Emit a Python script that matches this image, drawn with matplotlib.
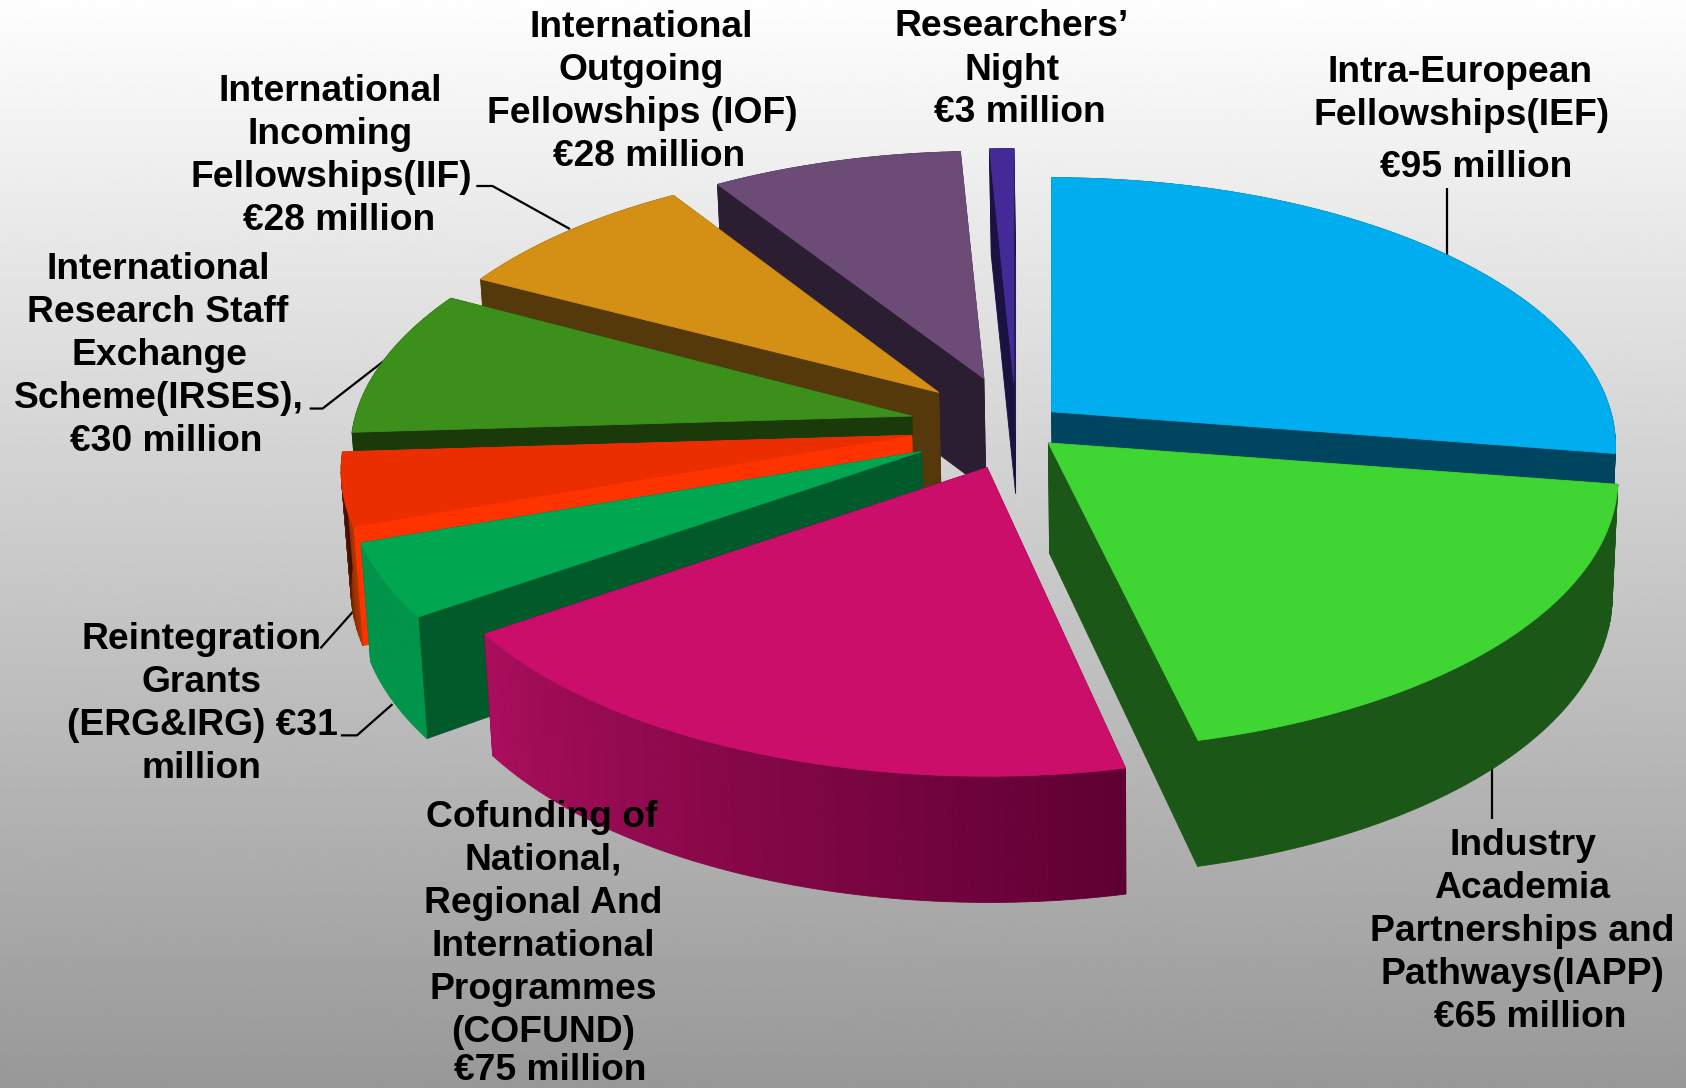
import numpy as np
import matplotlib
matplotlib.use("Agg")
import matplotlib.pyplot as plt
from matplotlib.colors import to_rgb

# ---- data -------------------------------------------------------------
actions = ["IEF", "IAPP", "COFUND", "IRG", "ERG", "IRSES", "IIF", "IOF", "Researchers' Night"]
funding = [95, 65, 75, 15.5, 15.5, 30, 28, 28, 3]   # EUR million

top_colors = ["#00AEEF", "#3FD634", "#CA0E6A", "#00A650", "#EA2E00", "#3C8F1A", "#D49015", "#6C4C76", "#432A96"]
side_colors = ["#004560", "#1B5716", "#5E0032", "#005A2A", "#FF3300", "#1A3A09", "#55390A", "#2C1E32", "#1A1240"]
wall_from = ["#004560", "#1B5716", "#AA0E5C", "#00954A", "#3A0C00", "#1A3A09", "#55390A", "#2C1E32", "#1A1240"]
wall_to = ["#004560", "#1B5716", "#5E0032", "#00954A", "#B03A00", "#1A3A09", "#55390A", "#2C1E32", "#1A1240"]

label_lines = [
    ("International", 596, 26), ("Outgoing", 596, 66), ("Fellowships (IOF)", 597, 106), ("€28 million", 604, 146),
    ("Researchers’", 941, 25), ("Night", 941, 66), ("€3 million", 948, 105),
    ("Intra-European", 1358, 67), ("Fellowships(IEF)", 1359, 107), ("€95 million", 1373, 156),
    ("International", 307, 85), ("Incoming", 307, 125), ("Fellowships(IIF)", 308, 165), ("€28 million", 315, 205),
    ("International", 147, 251), ("Research Staff", 147, 291), ("Exchange", 148, 331),
    ("Scheme(IRSES),", 148, 371), ("€30 million", 155, 411),
    ("Reintegration", 187, 595), ("Grants", 187, 635), ("(ERG&IRG) €31", 188, 675), ("million", 187, 715),
    ("Cofunding of", 504, 760), ("National,", 505, 800), ("Regional And", 505, 840), ("International", 505, 880),
    ("Programmes", 505, 920), ("(COFUND)", 505, 960), ("€75 million", 512, 996),
    ("Industry", 1416, 786), ("Academia", 1416, 826), ("Partnerships and", 1416, 866),
    ("Pathways(IAPP)", 1416, 906), ("€65 million", 1423, 946),
]
leaders = [
    ([1346, 1346], [175, 237]),
    ([1388, 1388], [712, 762]),
    ([443, 458, 530], [173, 173, 213]),
    ([288, 300, 358], [380, 380, 335]),
    ([298, 330], [603, 567]),
    ([317, 332, 365], [684, 684, 655]),
]

# ---- layout of the exploded slices -------------------------------------
apex_x = [978, 975, 918, 857, 848, 848, 873, 915, 943]
apex_y = [383, 412, 435, 420, 405, 387, 365, 352, 356]
radius = [1.0, 1.01, 1.015, 1.015, 1.012, 0.995, 0.98, 0.97, 1.0]
start_shift = [0, -2.4, -5.45, 3.1, 3.03, 3.25, 2.57, 1.56, -0.2]
end_shift = [-2.56, -4.35, 3.3, 3.03, 3.25, 1.77, 1.06, -0.24, 0]
RX, RY, PERSP, APEX_DEPTH, RIM_DEPTH, DEPTH_PERSP, VX, VK = 520.0, 246.0, 0.13, 103.0, 108.0, 0.08, 1070.0, 0.012
draw_order = [8, 7, 6, 5, 4, 3, 2, 0, 1]

fig = plt.figure(figsize=(16.86, 10.88), dpi=100)
ax = fig.add_axes([0, 0, 1, 1])
ax.set_xlim(0, 1568)
ax.set_ylim(1012, 0)
ax.axis("off")

grad = np.linspace(254, 152, 512).reshape(-1, 1) / 255.0
ax.imshow(grad, cmap="gray", vmin=0, vmax=1, extent=(0, 1568, 1012, 0), aspect="auto", zorder=0)

angles = 90 - 360 * np.concatenate([[0], np.cumsum(funding)]) / np.sum(funding)


def rim(i, deg):
    t = np.radians(deg)
    w = 1 + PERSP * np.sin(t)
    return (apex_x[i] + radius[i] * RX * np.cos(t) / w,
            apex_y[i] - radius[i] * RY * np.sin(t) / w)


def lower(x, y, deg):
    t = np.radians(deg)
    return x + (VX - x) * VK, y + RIM_DEPTH / (1 + DEPTH_PERSP * np.sin(t))


def poly(xs, ys, color, z):
    ax.fill(xs, ys, facecolor=color, edgecolor=color, linewidth=0.6, zorder=z)


z = 2
for i in draw_order:
    a0, a1 = angles[i] + start_shift[i], angles[i + 1] + end_shift[i]
    ax_ap, ay_ap = apex_x[i], apex_y[i]
    bx0, by0 = ax_ap + (VX - ax_ap) * VK, ay_ap + APEX_DEPTH
    # radial faces
    for a in (a0, a1):
        rx_, ry_ = rim(i, a)
        bx1, by1 = lower(rx_, ry_, a)
        poly([ax_ap, rx_, bx1, bx0], [ay_ap, ry_, by1, by0], side_colors[i], z)
    # outer wall as shaded strips
    n = max(int(abs(a1 - a0)), 2)
    edges = np.linspace(a0, a1, n + 1)
    c0, c1 = np.array(to_rgb(wall_to[i])), np.array(to_rgb(wall_from[i]))
    for k in range(n):
        sub = np.linspace(edges[k], edges[k + 1], 4)
        tx, ty = rim(i, sub)
        bx, by = lower(tx, ty, sub)
        col = c0 + (c1 - c0) * (k + 0.5) / n
        poly(np.r_[tx, bx[::-1]], np.r_[ty, by[::-1]], tuple(col), z)
    # top surface
    arc = np.linspace(a0, a1, 80)
    tx, ty = rim(i, arc)
    poly(np.r_[ax_ap, tx], np.r_[ay_ap, ty], top_colors[i], z + 0.5)
    z += 1

for xs, ys in leaders:
    ax.plot(xs, ys, color="black", lw=1.6, zorder=1.5, solid_capstyle="butt")

for text, x, y in label_lines:
    ax.text(x, y, text, ha="center", va="center", family="Liberation Sans",
            fontweight="bold", fontsize=26.8, color="black", zorder=30)

fig.savefig("out.png", dpi=100)
